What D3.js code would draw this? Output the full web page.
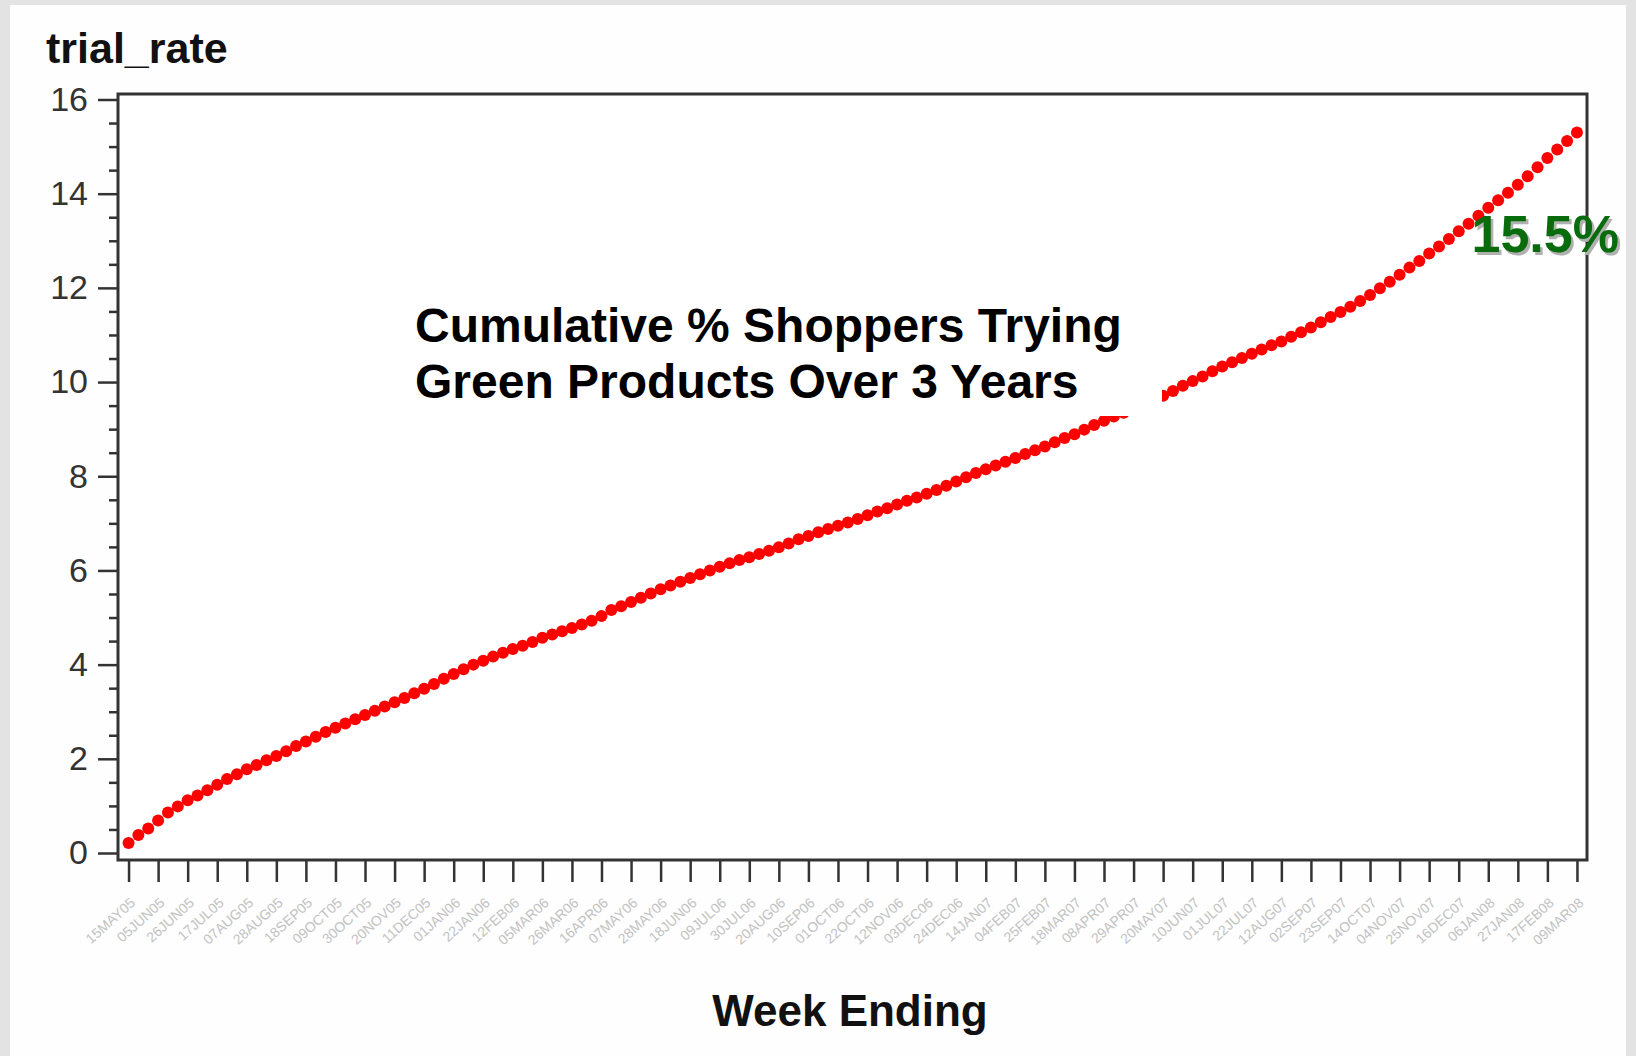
<!DOCTYPE html>
<html>
<head>
<meta charset="utf-8">
<script src="https://cdn.jsdelivr.net/npm/d3@7"></script>
<style>
  html, body { margin: 0; padding: 0; background: #e3e3e3; }
  svg { display: block; }
  text { font-family: "Liberation Sans", Arial, sans-serif; }
</style>
</head>
<body>
<svg id="chart" width="1636" height="1056"></svg>
<script>
// ---- data ----
const weekLabels = ["15MAY05","05JUN05","26JUN05","17JUL05","07AUG05","28AUG05","18SEP05","09OCT05","30OCT05","20NOV05",
  "11DEC05","01JAN06","22JAN06","12FEB06","05MAR06","26MAR06","16APR06","07MAY06","28MAY06","18JUN06",
  "09JUL06","30JUL06","20AUG06","10SEP06","01OCT06","22OCT06","12NOV06","03DEC06","24DEC06","14JAN07",
  "04FEB07","25FEB07","18MAR07","08APR07","29APR07","20MAY07","10JUN07","01JUL07","22JUL07","12AUG07",
  "02SEP07","23SEP07","14OCT07","04NOV07","25NOV07","16DEC07","06JAN08","27JAN08","17FEB08","09MAR08"];

const trialRate = [
  0.21,0.38,0.52,0.69,0.86,0.99,1.12,1.22,1.33,1.45,
  1.57,1.67,1.78,1.87,1.97,2.06,2.16,2.27,2.37,2.47,
  2.57,2.66,2.75,2.84,2.93,3.02,3.11,3.20,3.29,3.39,
  3.49,3.59,3.70,3.80,3.90,4.00,4.08,4.17,4.25,4.33,
  4.40,4.48,4.57,4.64,4.71,4.78,4.85,4.93,5.03,5.16,
  5.24,5.33,5.42,5.51,5.60,5.68,5.76,5.84,5.92,6.00,
  6.08,6.15,6.22,6.28,6.35,6.42,6.49,6.57,6.66,6.73,
  6.81,6.88,6.95,7.02,7.09,7.17,7.25,7.32,7.40,7.48,
  7.55,7.63,7.71,7.80,7.89,7.98,8.07,8.15,8.23,8.31,
  8.39,8.47,8.55,8.63,8.72,8.81,8.89,8.99,9.09,9.18,
  9.27,9.35,9.44,9.53,9.62,9.71,9.81,9.92,10.02,10.12,
  10.23,10.33,10.42,10.51,10.60,10.69,10.78,10.86,10.96,11.06,
  11.16,11.27,11.38,11.49,11.60,11.72,11.85,11.99,12.13,12.28,
  12.43,12.57,12.73,12.88,13.04,13.20,13.36,13.53,13.70,13.86,
  14.02,14.19,14.37,14.56,14.76,14.94,15.12,15.30];

const yTickValues = [0, 2, 4, 6, 8, 10, 12, 14, 16];
const yTitle = "trial_rate";
const xTitle = "Week Ending";
const chartTitle = ["Cumulative % Shoppers Trying", "Green Products Over 3 Years"];
const endLabel = "15.5%";
const weeksPerTick = 3;

// ---- layout ----
const svg = d3.select("#chart");
const frame = {left: 118, right: 1587, top: 94, bottom: 860};

const x = d3.scaleLinear().domain([-1.07, trialRate.length + 0.02]).range([frame.left, frame.right]);
const y = d3.scaleLinear().domain([0, 16]).range([853, 99.5]);

// white panel
svg.append("rect").attr("x", 10).attr("y", 5).attr("width", 1616).attr("height", 1051).attr("fill", "#fefefe");

// plot area
svg.append("rect").attr("x", frame.left).attr("y", frame.top)
  .attr("width", frame.right - frame.left).attr("height", frame.bottom - frame.top)
  .attr("fill", "#ffffff");

// y axis major
const yAxis = d3.axisLeft(y).tickValues(yTickValues).tickSize(20).tickPadding(10).tickFormat(d3.format("d"));
const gy = svg.append("g").attr("transform", `translate(${frame.left},0)`).call(yAxis);
gy.select(".domain").remove();
gy.selectAll(".tick line").attr("stroke", "#333").attr("stroke-width", 2.5);
gy.selectAll(".tick text").attr("fill", "#333").attr("font-size", 34).attr("font-family", "Liberation Sans, Arial");

// y axis minor
const minorVals = d3.range(0, 16.001, 0.5).filter(v => v % 2 !== 0);
const yMinor = d3.axisLeft(y).tickValues(minorVals).tickSize(9).tickFormat("");
const gym = svg.append("g").attr("transform", `translate(${frame.left},0)`).call(yMinor);
gym.select(".domain").remove();
gym.selectAll(".tick line").attr("stroke", "#333").attr("stroke-width", 2.5);

// x axis
const xTickIdx = weekLabels.map((d, i) => i * weeksPerTick);
const xAxis = d3.axisBottom(x).tickValues(xTickIdx).tickSize(22)
  .tickFormat((d, i) => weekLabels[i]);
const gx = svg.append("g").attr("transform", `translate(0,${frame.bottom})`).call(xAxis);
gx.select(".domain").remove();
gx.selectAll(".tick line").attr("stroke", "#333").attr("stroke-width", 2.5);
gx.selectAll(".tick text")
  .attr("x", 0).attr("y", 0).attr("dy", 0)
  .attr("transform", "translate(7,44) rotate(-42)")
  .attr("text-anchor", "end")
  .attr("fill", "#c2c2c2")
  .attr("font-size", 14)
  .attr("font-family", "Liberation Sans, Arial");

// points
svg.append("g").selectAll("circle").data(trialRate).join("circle")
  .attr("cx", (d, i) => x(i)).attr("cy", d => y(d)).attr("r", 6)
  .attr("fill", "#ff0000");

// frame
svg.append("rect").attr("x", frame.left).attr("y", frame.top)
  .attr("width", frame.right - frame.left).attr("height", frame.bottom - frame.top)
  .attr("fill", "none").attr("stroke", "#333").attr("stroke-width", 3);

// titles
svg.append("text").attr("x", 46).attr("y", 63).attr("font-size", 43).attr("font-weight", "bold")
  .attr("fill", "#111").text(yTitle);

svg.append("text").attr("x", 850).attr("y", 1026).attr("text-anchor", "middle")
  .attr("font-size", 44).attr("font-weight", "bold").attr("fill", "#111").text(xTitle);

// title box
svg.append("rect").attr("x", 393).attr("y", 283).attr("width", 769).attr("height", 133).attr("fill", "#ffffff");
svg.append("g").selectAll("text").data(chartTitle).join("text")
  .attr("x", 415).attr("y", (d, i) => 342 + i * 56)
  .attr("font-size", 48).attr("font-weight", "bold").attr("fill", "#000")
  .text(d => d);

// end label with shadow
const lastIdx = trialRate.length - 1;
const lx = x(lastIdx) + 42, ly = y(trialRate[lastIdx]) + 120;
svg.append("text").attr("x", lx + 2.5).attr("y", ly + 2.5).attr("text-anchor", "end")
  .attr("font-size", 52).attr("font-weight", "bold").attr("fill", "#b0b0b0").text(endLabel);
svg.append("text").attr("x", lx).attr("y", ly).attr("text-anchor", "end")
  .attr("font-size", 52).attr("font-weight", "bold").attr("fill", "#086c0c").text(endLabel);
</script>
</body>
</html>
